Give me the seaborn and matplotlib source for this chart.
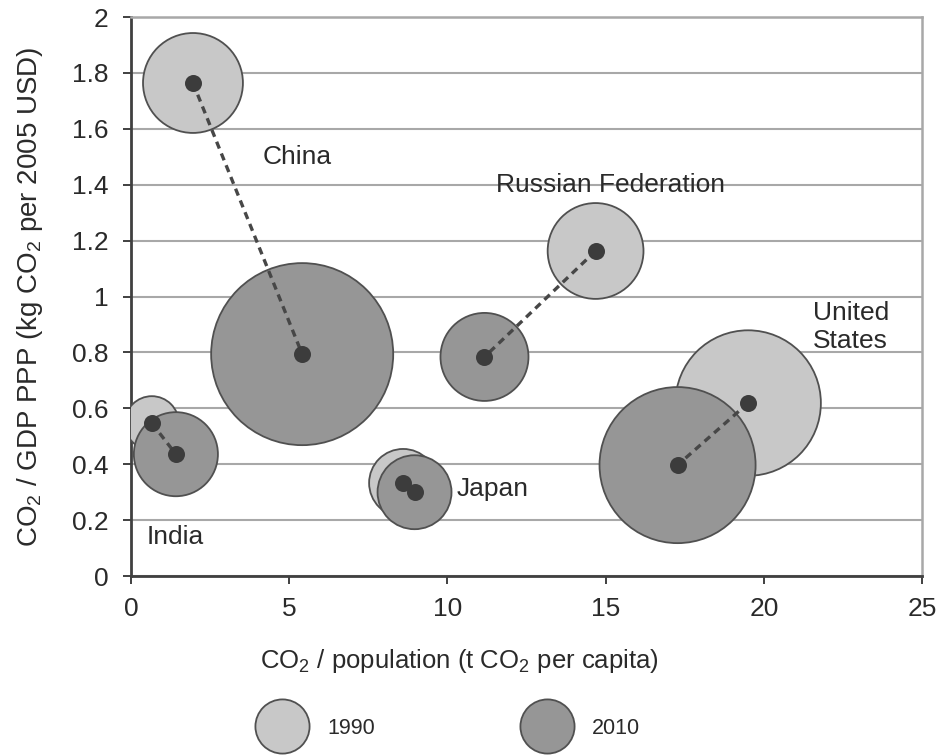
import matplotlib
matplotlib.use("Agg")
import matplotlib.pyplot as plt
from matplotlib.lines import Line2D
import seaborn as sns
import pandas as pd

# Country data: CO2 per capita (t), CO2 intensity (kg CO2 / 2005 USD PPP), total CO2 (Gt)
countries = ["China", "India", "Japan", "Russian Federation", "United States"]
per_capita_1990 = [1.96, 0.66, 8.60, 14.68, 19.50]
per_capita_2010 = [5.41, 1.42, 8.96, 11.17, 17.27]
intensity_1990 = [1.764, 0.547, 0.333, 1.163, 0.619]
intensity_2010 = [0.794, 0.436, 0.300, 0.784, 0.397]
total_1990 = [2.5, 0.73, 1.16, 2.3, 5.3]
total_2010 = [8.3, 1.77, 1.37, 1.94, 6.1]
years = ["1990", "2010"]

label_x = [5.25, 0.5, 10.3, 15.15, 21.55]
label_y = [1.50, 0.14, 0.31, 1.40, 0.89]
label_ha = ["center", "left", "left", "center", "left"]
label_text = ["China", "India", "Japan", "Russian Federation", "United\nStates"]

rows = []
for i, c in enumerate(countries):
    rows.append(dict(country=c, year="1990", x=per_capita_1990[i],
                     y=intensity_1990[i], total=total_1990[i]))
for i, c in enumerate(countries):
    rows.append(dict(country=c, year="2010", x=per_capita_2010[i],
                     y=intensity_2010[i], total=total_2010[i]))
df = pd.DataFrame(rows)

sns.set_theme(style="white")
plt.rcParams["font.family"] = ["Liberation Sans", "DejaVu Sans"]
plt.rcParams["mathtext.fontset"] = "custom"
plt.rcParams["mathtext.rm"] = "Liberation Sans"
plt.rcParams["mathtext.it"] = "Liberation Sans"

fill = {"1990": "#c8c8c8", "2010": "#969696"}
edge = "#505050"
dark = "#3c3c3c"
grid_c = "#a8a8a8"
txt_c = "#2a2a2a"

fig = plt.figure(figsize=(9.42, 7.56), dpi=100)
ax = fig.add_axes([0.139, 0.238, 0.840, 0.7395])

# bubble area proportional to total emissions
for yr in years:
    sub = df[df["year"] == yr]
    sns.scatterplot(data=sub, x="x", y="y", size="total", sizes=(0, 20700),
                    size_norm=(0, 10), color=fill[yr], edgecolor=edge,
                    linewidth=1.3, legend=False, ax=ax, zorder=3)

# dashed trajectories 1990 -> 2010
for i in range(len(countries)):
    ax.plot([per_capita_1990[i], per_capita_2010[i]],
            [intensity_1990[i], intensity_2010[i]],
            ls=(0, (2.2, 1.6)), color="#474747", lw=2.4, zorder=4)

# centre dots
sns.scatterplot(data=df, x="x", y="y", s=150, color=dark, edgecolor=dark,
                linewidth=0, legend=False, ax=ax, zorder=5)

for tx, ty, ha, t in zip(label_x, label_y, label_ha, label_text):
    ax.text(tx, ty, t, ha=ha, va="center", fontsize=19, color=txt_c,
            linespacing=1.2, zorder=6)

ax.set_xlim(0, 25)
ax.set_ylim(0, 2)
ax.set_xticks([0, 5, 10, 15, 20, 25])
ax.set_xticklabels(["0", "5", "10", "15", "20", "25"])
ax.set_yticks([0, 0.2, 0.4, 0.6, 0.8, 1.0, 1.2, 1.4, 1.6, 1.8, 2.0])
ax.set_yticklabels(["0", "0.2", "0.4", "0.6", "0.8", "1", "1.2", "1.4",
                    "1.6", "1.8", "2"])
ax.yaxis.grid(True, color=grid_c, lw=1.5, zorder=0)
ax.set_axisbelow(True)
ax.tick_params(axis="both", labelsize=19, colors=txt_c, length=6,
               width=1.4, direction="out")
ax.tick_params(axis="y", pad=10)
ax.tick_params(axis="x", pad=9)
ax.tick_params(axis="both", color="#404040")
ax.tick_params(left=True, bottom=True)

for side in ["left", "bottom"]:
    ax.spines[side].set_color("#404040")
    ax.spines[side].set_linewidth(2.0)
for side in ["right", "top"]:
    ax.spines[side].set_color(grid_c)
    ax.spines[side].set_linewidth(1.8)

ax.set_xlabel(r"CO$_\mathregular{2}$ / population (t CO$_\mathregular{2}$ per capita)",
              fontsize=18.5, color=txt_c)
ax.xaxis.set_label_coords(0.415, -0.127)
ax.set_ylabel(r"CO$_\mathregular{2}$ / GDP PPP (kg CO$_\mathregular{2}$ per 2005 USD)",
              fontsize=20, color=txt_c)
ax.yaxis.set_label_coords(-0.108, 0.5)

# two legend entries placed side by side below the x label
for yr, x0 in zip(years, [0.2647, 0.5460]):
    h = Line2D([], [], ls="none", marker="o", markersize=39,
               markerfacecolor=fill[yr], markeredgecolor=edge,
               markeredgewidth=1.3)
    fig.legend([h], [yr], loc="center left", bbox_to_anchor=(x0, 0.037),
               frameon=False, fontsize=15.5, borderpad=0, handlelength=2.0,
               handletextpad=1.12, labelcolor=txt_c)

fig.savefig("out.png", dpi=100)
